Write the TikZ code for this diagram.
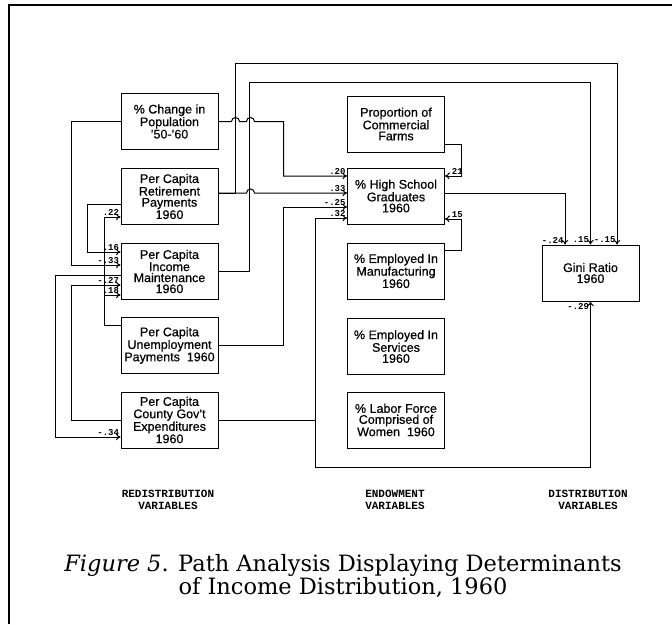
\documentclass[tikz,border=0pt]{standalone}
\usepackage{fontspec}
\usepackage{tikz}
\usetikzlibrary{arrows.meta}
\newfontfamily\boxfont[FakeBold=0.6]{Liberation Sans}
\newfontfamily\labfont{Liberation Mono}
\newfontfamily\capfont{DejaVu Serif}

\tikzset{
  var/.style={draw, line width=1pt, minimum width=97pt, minimum height=56pt,
    align=center, inner sep=1pt, font=\boxfont\fontsize{12.5}{11}\selectfont},
  arr/.style={line width=1pt, -{To[length=4.5pt,width=6.5pt]}},
  lab/.style={inner sep=1pt, font=\labfont\bfseries\fontsize{9}{9}\selectfont},
  group/.style={align=center, font=\labfont\bfseries\fontsize{11}{12.5}\selectfont}
}

\begin{document}
\begin{tikzpicture}[x=1pt, y=-1pt]
  \useasboundingbox (0,0) rectangle (672,624);
  \draw[line width=1.6pt] (9,624) -- (9,5) -- (672,5);

  % redistribution variables
  \node[var] (pop) at (169.5,121.5) {\% Change in\\Population\\’50-’60};
  \node[var] (ret) at (169.5,196.5) {Per Capita\\Retirement\\Payments\\1960};
  \node[var] (maint) at (169.5,271.5) {Per Capita\\Income\\Maintenance\\1960};
  \node[var] (unemp) at (169.5,345.5) {Per Capita\\Unemployment\\Payments\ \ 1960};
  \node[var] (county) at (169.5,420) {Per Capita\\County Gov’t\\Expenditures\\1960};

  % endowment variables
  \node[var] (farms) at (396,124) {Proportion of\\Commercial\\Farms};
  \node[var] (hs) at (396,196) {\% High School\\Graduates\\1960};
  \node[var] (manuf) at (396,271) {\% Employed In\\Manufacturing\\1960};
  \node[var] (serv) at (396,346.5) {\% Employed In\\Services\\1960};
  \node[var] (women) at (396,420) {\% Labor Force\\Comprised of\\Women\ \ 1960};

  % distribution variable
  \node[var] (gini) at (590.5,273) {Gini Ratio\\1960};

  % paths among redistribution variables
  \draw[arr] (pop.west) -- ++(-49,0) |- ([yshift=6.5pt]maint.west) node[lab, above left] {-.33};
  \draw[arr] ([yshift=-7.5pt]ret.west) -- ++(-33,0) |- ([yshift=19.5pt]maint.west) node[lab, above left] {.16};
  \draw[arr] ([yshift=20.5pt]unemp.west) -- ++(-16,0) |- ([yshift=-20.5pt]ret.west) node[lab, above left] {.22};
  \draw[arr] ([yshift=20.5pt]unemp.west) -- ++(-16,0) |- ([yshift=-23.5pt]maint.west) node[lab, above left] {.18};
  \draw[arr] ([yshift=-3.5pt]maint.west) -- ++(-65,0) |- ([yshift=-17pt]county.west) node[lab, above left] {-.34};
  \draw[arr] (county.west) -- ++(-49,0) |- ([yshift=-13.5pt]maint.west) node[lab, above left] {-.27};

  % paths to high school graduates
  \draw[arr] (pop.east) -- ++(13,0) arc[start angle=180, end angle=360, radius=4]
    -- ++(7,0) arc[start angle=180, end angle=360, radius=4]
    -- ++(29,0) |- ([yshift=20pt]hs.west) node[lab, above left] {.20};
  \draw[arr] ([yshift=3.5pt]ret.east) -- ++(28,0) arc[start angle=180, end angle=360, radius=4]
    -- ([yshift=3pt]hs.west) node[lab, above left] {.33};
  \draw[arr] (unemp.east) -- ++(65,0) |- ([yshift=-11pt]hs.west) node[lab, above left] {-.25};
  \draw[arr] (county.east) -- ++(97,0) |- ([yshift=-22pt]hs.west) node[lab, above left] {.32};
  \draw[arr] ([yshift=-20pt]farms.east) -- ++(16,0) |- ([yshift=20pt]hs.east) node[lab, above right] {.21};
  \draw[arr] ([yshift=21pt]manuf.east) -- ++(16,0) |- ([yshift=-23pt]hs.east) node[lab, above right] {.15};

  % paths to gini ratio
  \draw[arr] ([yshift=3pt]hs.east) -| ([xshift=-25.5pt]gini.north) node[lab, above left] {-.24};
  \draw[arr] (maint.east) -- ++(31,0) -- ++(0,-189.5) -| (gini.north) node[lab, above left] {.15};
  \draw[arr] ([yshift=3.5pt]ret.east) -- ++(17,0) -- ++(0,-130) -| ([xshift=26.5pt]gini.north) node[lab, above left] {-.15};
  \draw[arr] (county.east) -- ++(97,0) -- ++(0,47) -| (gini.south) node[lab, below left] {-.29};

  % column headings
  \node[group] (redist) at (168,500) {REDISTRIBUTION\\VARIABLES};
  \node[group] (endow) at (395,500) {ENDOWMENT\\VARIABLES};
  \node[group] (distr) at (588,500) {DISTRIBUTION\\VARIABLES};

  % caption
  \node[align=center, font=\capfont\fontsize{22.5}{22}\selectfont] (caption) at (343,576)
    {\textit{Figure 5}. Path Analysis Displaying Determinants\\of Income Distribution, 1960};
\end{tikzpicture}
\end{document}
